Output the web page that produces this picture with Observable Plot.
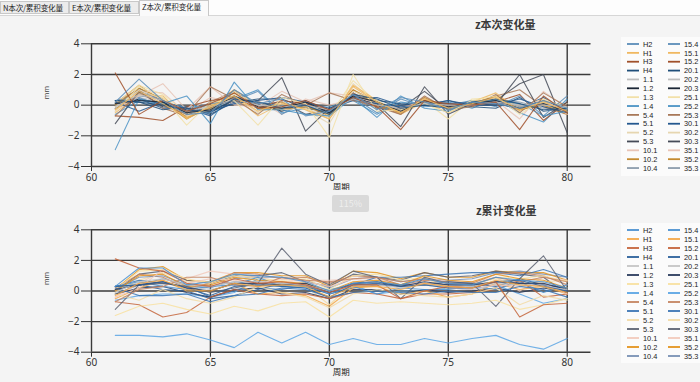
<!DOCTYPE html>
<html><head><meta charset="utf-8">
<script src="https://cdn.jsdelivr.net/npm/d3@7"></script>
<script src="https://cdn.jsdelivr.net/npm/@observablehq/plot@0.6"></script>
<style>
body{margin:0;width:700px;height:382px;background:#f4f4f4;font-family:"Noto Sans CJK SC","Noto Sans",sans-serif;position:relative;overflow:hidden;}
.abs{position:absolute;}
.tabbar{left:0;top:0;width:700px;height:15px;background:#fdfdfd;border-bottom:1px solid #d6d6d6;}
.tab{top:1px;height:13px;font-size:7.6px;line-height:12px;color:#222;border:1px solid #c8c8c8;background:#ececec;padding-left:2px;box-sizing:border-box;white-space:nowrap;overflow:hidden;letter-spacing:-0.2px;}
.tab.sel{top:0;height:16px;background:#fafafa;border-bottom:none;}
.title{font-size:11px;font-weight:bold;color:#3a3a3a;white-space:nowrap;}
.legend{background:#fbfbfb;}
.btn{left:332px;top:195px;width:37px;height:17px;background:#d9d9d9;border-radius:2px;color:#eeeeee;font-size:9px;text-align:center;line-height:17px;}
</style></head>
<body>
<div class="abs tabbar"></div>
<div class="abs tab" style="left:0;width:69px">N本次/累积变化量</div>
<div class="abs tab" style="left:69px;width:70px">E本次/累积变化量</div>
<div class="abs tab sel" style="left:139px;width:70px">Z本次/累积变化量</div>
<div class="abs title" style="left:475px;top:16px">z本次变化量</div>
<div class="abs title" style="left:476px;top:202px">z累计变化量</div>
<div class="abs btn">115%</div>
<div id="p1" class="abs" style="left:0;top:0"></div>
<div id="p2" class="abs" style="left:0;top:190px"></div>
<div id="lg1" class="abs legend" style="left:621px;top:37px;width:79px;height:139px"></div>
<div id="lg2" class="abs legend" style="left:621px;top:223px;width:79px;height:140px"></div>
<script>
const names = ["H2","H1","H3","H4","1.1","1.2","1.3","1.4","5.4","5.1","5.2","5.3","10.1","10.2","10.4",
  "15.4","15.1","15.2","20.1","20.2","20.3","25.1","25.2","25.3","30.1","30.2","30.3","35.1","35.2","35.3"];
const periods = [61,62,63,64,65,66,67,68,69,70,71,72,73,74,75,76,77,78,79,80];
const xTicks = [60,65,70,75,80];
const yTicks = [-4,-2,0,2,4];
const paletteTop = ["#5b8db8","#f0b860","#a0502a","#1f4e79","#bdbdbd","#1a2535","#f2e0a8","#4a92c4","#a87858","#24588f","#e6d6b0","#454b58","#e8c4b6","#c48a30","#8c9cac"];
const paletteBottom = ["#4a90d0","#f4a848","#c4643a","#2a5f9a","#c4c4c4","#2a3a5c","#f8e0a0","#5aa4e4","#c48460","#3a74b4","#f2daa4","#5c6272","#f2cabc","#e4941e","#7890b4"];

// z本次变化量 (per-period change)
const zThis = [
 [0.2,1.7,0.3,-0.6,-0.5,1.0,0.1,0.4,-0.7,-0.4,0.7,-0.3,0.5,0.2,-0.3,0.2,0.1,-0.2,0.3,-0.2],
 [-0.3,0.9,0.1,-0.8,-0.1,0.6,-0.4,0.2,-0.3,-0.9,1.2,0.2,-0.5,0.4,-0.2,0.1,0.5,-0.3,0.2,-0.4],
 [2.1,-0.6,0.3,-0.4,0.1,0.8,-0.2,-0.1,0.3,-0.3,0.5,-0.1,-1.6,0.3,0.1,0.0,0.2,-1.6,0.6,-0.5],
 [0.3,0.2,0.0,-0.3,-0.5,0.4,0.2,-0.2,0.0,-0.6,0.7,0.4,-0.2,0.0,-0.2,0.2,0.4,0.1,-0.3,-0.2],
 [-0.1,0.7,0.3,-0.4,-0.1,0.4,0.0,-0.1,0.0,-0.3,0.4,0.0,-0.2,0.1,0.0,0.0,0.2,0.0,0.0,-0.1],
 [0.1,0.3,0.2,-0.5,-0.3,0.6,-0.1,-0.2,0.2,-0.5,0.6,0.2,-0.4,0.3,-0.1,0.1,0.3,-0.2,0.1,-0.4],
 [-0.4,1.2,0.5,-1.3,0.2,0.3,-1.3,0.5,0.1,-2.1,2.0,-0.4,-0.3,0.1,-0.5,0.3,0.6,-0.6,0.4,-0.2],
 [-2.9,0.4,0.1,0.6,-1.2,1.5,-0.3,-0.3,-0.6,-0.7,0.5,-0.8,0.6,-0.2,-0.4,0.2,0.3,0.1,-0.7,-0.4],
 [-0.7,0.8,0.0,-0.6,1.2,0.4,-0.6,0.7,0.0,0.8,0.3,-0.1,-0.6,0.6,-0.3,-0.1,0.7,-0.5,0.8,-0.1],
 [0.2,-0.4,0.2,-0.2,-0.4,0.1,0.3,0.5,0.2,-0.2,0.3,0.1,-0.1,0.0,0.3,0.0,0.0,0.4,-0.1,-0.5],
 [-0.2,1.0,0.4,-0.7,-0.3,0.7,0.2,-0.3,-0.2,-0.8,0.9,0.3,-0.4,0.4,-0.2,0.2,0.4,-0.2,0.2,-0.4],
 [-1.2,0.9,-0.1,-0.2,-0.4,0.3,0.3,1.8,-1.7,-0.2,0.4,0.1,-1.4,1.2,-0.6,0.1,0.0,2.0,-0.8,0.2],
 [-0.3,0.6,1.4,-0.3,1.2,0.0,-0.1,0.9,0.2,0.8,0.6,0.1,-0.2,0.3,-0.1,0.0,0.2,-0.2,0.4,-0.6],
 [0.0,1.1,0.4,-0.8,-0.2,0.8,-0.2,-0.3,-0.1,-0.6,1.0,0.0,-0.5,0.5,-0.2,0.1,0.6,-0.3,0.0,-0.6],
 [0.1,0.9,0.3,-0.5,-0.3,0.5,0.1,-0.1,-0.1,-0.4,0.7,0.1,-0.3,0.2,-0.1,0.0,0.3,-0.1,0.2,-0.3],
 [0.3,0.5,-0.1,-0.3,0.1,0.3,0.9,-0.6,0.2,-0.5,0.5,-0.5,0.4,-0.1,0.0,0.3,-0.1,0.6,-0.7,0.6],
 [-0.5,0.7,0.6,-0.9,0.0,0.6,-0.7,0.1,-0.2,-0.9,1.3,0.3,-0.6,0.2,-0.5,0.2,0.8,-0.4,0.3,-0.5],
 [-0.7,-0.8,-1.0,-0.1,0.3,0.5,-0.2,0.3,0.1,-0.3,0.4,-0.1,-0.2,0.3,0.0,0.1,0.2,0.7,-1.0,0.2],
 [0.3,0.2,-0.3,-0.1,-0.6,0.2,0.4,0.4,-0.2,-0.4,0.5,0.3,0.1,0.0,0.3,-0.1,-0.2,0.5,-0.4,-0.2],
 [0.0,0.5,0.2,-0.3,-0.2,0.3,0.0,-0.1,0.0,-0.3,0.3,0.1,-0.1,0.1,0.0,0.0,0.1,0.0,0.0,-0.2],
 [-0.2,0.4,0.1,-0.4,-0.4,0.5,0.1,-0.4,0.1,-0.4,0.6,0.0,-0.3,0.3,-0.2,0.1,0.2,-0.3,0.3,-0.3],
 [0.1,1.3,0.7,-0.5,-0.4,0.9,-0.3,-0.2,0.2,-0.7,1.6,0.2,-0.5,0.3,-0.9,0.4,0.5,-0.1,0.4,-0.3],
 [-0.6,0.3,0.1,-0.1,-0.1,0.4,1.0,-0.5,-0.2,-0.1,0.3,-0.6,0.2,0.0,0.2,-0.2,0.4,-0.5,-1.1,0.4],
 [0.2,1.0,-0.2,-0.7,0.2,0.9,-0.1,-0.3,0.1,-0.4,0.8,0.0,-0.6,0.4,-0.1,-0.1,0.6,1.0,-0.1,-0.6],
 [0.3,0.4,-0.2,-0.2,-0.7,0.4,0.2,-0.1,0.3,-0.5,0.5,0.5,0.0,0.1,0.1,0.2,0.1,-0.2,0.5,-0.4],
 [-0.1,0.8,0.5,-0.6,0.0,0.6,-0.5,0.1,-0.3,-1.2,1.4,0.1,-0.3,0.2,-0.3,0.3,0.3,-0.3,0.1,0.1],
 [0.0,1.1,0.2,-0.6,-0.2,0.5,0.0,0.2,-0.6,-0.3,0.8,-0.2,-0.2,0.9,-0.3,0.1,0.3,1.4,2.0,-1.8],
 [-0.4,0.9,0.8,-0.5,0.5,0.2,0.3,-0.6,0.4,0.0,0.4,0.0,-0.4,0.5,-0.3,0.0,0.3,-0.9,0.9,-0.2],
 [0.1,1.3,0.2,-0.9,-0.1,1.0,0.0,-0.2,0.0,-0.7,1.0,0.2,-0.5,0.4,-0.2,0.1,0.6,-0.1,0.0,-0.5],
 [-0.2,0.6,0.4,-0.4,-0.2,0.6,0.1,0.0,-0.2,-0.5,0.6,0.2,-0.3,0.2,-0.1,0.1,0.4,0.2,-0.2,-0.2]
];
// z累计变化量 (cumulative change)
const zCum = [
 [0.3,1.5,1.5,0.4,0.6,1.1,1.0,0.9,0.6,0.0,0.5,0.6,0.4,0.8,0.5,0.4,0.9,0.7,0.6,0.2],
 [-0.3,0.5,0.7,0.1,0.0,0.5,0.3,0.4,0.3,-0.4,0.3,0.3,0.1,0.5,0.3,0.2,0.7,0.4,0.3,-0.1],
 [2.1,1.5,1.3,0.5,0.3,0.8,0.5,0.6,0.4,-0.1,0.4,0.4,-0.5,0.0,0.3,0.2,0.6,-1.7,-0.9,-0.8],
 [0.3,0.4,0.6,0.2,-0.3,0.3,0.4,0.3,0.2,-0.4,0.4,0.5,0.3,0.4,0.2,0.2,0.6,0.7,0.3,0.0],
 [-0.1,0.6,0.8,0.4,0.3,0.6,0.6,0.5,0.4,0.0,0.3,0.4,0.2,0.4,0.3,0.3,0.5,0.4,0.3,0.1],
 [0.1,0.4,0.6,0.2,0.0,0.5,0.5,0.4,0.5,-0.1,0.5,0.6,0.3,0.6,0.4,0.4,0.6,0.5,0.5,0.1],
 [-1.6,-1.0,-0.8,-1.2,-1.5,-1.0,-1.3,-0.8,-0.7,-1.7,-0.6,-0.8,-0.7,-0.8,-0.9,-0.8,-0.6,-1.2,-0.9,-0.5],
 [-2.9,-2.9,-3.0,-2.8,-3.2,-3.7,-2.7,-3.4,-2.7,-3.5,-3.1,-3.5,-3.5,-3.1,-3.4,-3.1,-2.9,-3.5,-3.8,-3.1],
 [-0.7,0.1,0.3,0.9,0.9,0.4,0.3,0.9,0.7,0.6,0.8,0.9,0.6,0.8,0.5,0.4,0.9,0.6,0.9,0.6],
 [0.2,-0.3,-0.3,-0.2,-0.7,-0.3,-0.2,0.2,0.1,-0.4,-0.1,0.0,-0.1,-0.2,0.0,-0.1,-0.1,0.3,0.1,-0.4],
 [-0.2,-0.6,0.1,-0.5,-0.8,-0.4,0.3,-0.1,-0.4,-1.1,-0.2,0.1,-0.2,-0.3,-0.4,-0.2,0.2,-0.9,-0.3,-0.6],
 [-1.2,0.4,0.5,0.3,-0.1,0.2,0.5,2.8,1.1,0.4,1.3,0.9,-0.5,0.9,0.5,0.5,-1.0,0.8,2.3,0.0],
 [-0.4,0.2,1.4,0.5,0.8,0.7,0.5,0.8,0.6,0.3,0.8,0.5,0.3,0.5,0.2,0.1,0.4,0.3,0.5,-0.2],
 [0.0,1.0,1.1,0.3,0.4,0.9,0.7,0.6,0.5,0.0,0.6,0.7,0.4,1.0,0.7,0.6,1.1,0.8,0.7,0.2],
 [0.1,0.9,1.0,0.4,0.3,0.6,0.6,0.5,0.5,-0.1,0.5,0.4,0.3,0.5,0.4,0.3,0.6,0.5,0.4,0.0],
 [0.3,0.6,0.3,0.1,0.3,0.4,0.9,0.3,0.4,-0.2,0.3,-0.2,0.2,0.1,0.1,0.3,0.1,0.6,-0.1,0.4],
 [-0.5,0.2,0.7,0.0,0.0,0.5,-0.2,-0.1,-0.3,-1.0,0.2,0.3,-0.2,0.0,-0.4,-0.2,0.5,0.1,0.3,-0.2],
 [-0.7,-0.9,-1.7,-1.4,-0.4,0.1,-0.2,-0.3,-0.2,-0.5,-0.1,-0.2,-0.5,-0.2,-0.2,-0.1,0.1,0.7,-0.4,-0.2],
 [0.3,0.4,0.1,0.0,-0.5,-0.3,0.1,0.5,0.3,-0.2,0.2,0.4,0.4,0.4,0.6,0.5,0.3,0.8,0.4,0.2],
 [0.0,0.5,0.6,0.3,0.1,0.4,0.4,0.3,0.3,0.0,0.3,0.4,0.3,0.4,0.3,0.3,0.4,0.4,0.4,0.2],
 [-0.2,0.2,0.3,-0.1,-0.4,0.1,0.2,-0.2,-0.1,-0.5,0.1,0.1,-0.2,0.1,-0.1,0.0,0.2,-0.1,0.2,-0.1],
 [0.1,1.3,1.4,0.8,0.5,1.1,0.8,0.7,0.8,0.1,1.0,1.1,0.7,0.9,0.1,0.4,0.9,0.8,1.0,0.6],
 [-0.6,-0.3,-0.2,-0.2,-0.4,-0.1,0.8,0.3,0.2,0.1,0.4,-0.2,0.0,0.0,0.2,0.1,0.4,-0.2,-0.8,-0.5],
 [0.2,1.1,0.9,0.2,0.5,1.2,1.1,0.8,0.9,0.5,1.0,0.9,0.4,0.7,0.6,0.5,1.1,1.2,1.0,0.4],
 [0.3,0.7,0.5,0.3,-0.4,0.0,0.2,0.1,0.4,-0.1,0.4,0.9,0.9,1.0,1.1,1.2,1.2,1.0,1.4,0.9],
 [-0.1,0.7,1.2,0.6,0.6,1.0,0.5,0.6,0.3,-0.9,0.5,0.6,0.3,0.5,0.2,0.5,0.8,0.5,0.6,0.7],
 [0.0,1.1,1.3,0.7,0.5,1.0,1.0,1.2,0.6,0.3,1.1,0.9,0.7,1.2,0.9,1.0,1.3,1.1,0.9,-0.2],
 [-0.4,0.5,1.3,0.8,1.3,1.1,0.9,0.6,0.7,0.7,0.8,0.8,0.4,0.9,0.6,0.6,0.9,0.0,0.9,0.7],
 [0.1,1.4,1.6,0.7,0.6,1.2,1.2,1.0,1.0,0.3,1.3,1.2,0.8,1.2,0.9,0.9,1.3,1.2,1.2,0.7],
 [-0.2,0.4,0.8,0.4,0.2,0.8,0.9,0.9,0.7,0.2,0.8,0.9,0.6,0.8,0.7,0.8,1.2,1.3,1.1,0.9]
];

function rows(values){
  const out = [];
  values.forEach((arr,i)=>arr.forEach((v,j)=>out.push({name:names[i], x:periods[j], y:v})));
  return out;
}
function chart(values, palette, mt, mb, h){
  return Plot.plot({
    width: 600, height: h,
    marginLeft: 91, marginRight: 9.5, marginTop: mt, marginBottom: mb,
    style: {background:"transparent", fontSize:"10px", fontFamily:"'Noto Sans','DejaVu Sans',sans-serif", color:"#333"},
    x: {domain:[60,81], ticks:xTicks, tickSize:5, tickPadding:2, label:null},
    y: {domain:[-4,4], ticks:yTicks, tickSize:10, tickPadding:2, label:null},
    color: {domain:names, range:palette.concat(palette)},
    marks: [
      Plot.ruleY(yTicks, {x1:60, x2:81, stroke:"#3a3a3a", strokeWidth:1.4}),
      Plot.ruleX(xTicks, {y1:-4, y2:4, stroke:"#3a3a3a", strokeWidth:1.4}),
      Plot.line(rows(values).reverse(), {x:"x", y:"y", z:"name", stroke:"name", strokeWidth:1.1, strokeOpacity:0.85}),
      Plot.text(["周期"], {frameAnchor:"bottom", dy:23, fontSize:8.5, fill:"#222", fontFamily:"'Noto Sans CJK SC',sans-serif"}),
      Plot.text(["mm"], {frameAnchor:"left", dx:-45, dy:-6, rotate:-90, fontSize:7, fill:"#444"})
    ]
  });
}
document.getElementById("p1").append(chart(zThis, paletteTop, 43.3, 24, 190));
document.getElementById("p2").append(chart(zCum, paletteBottom, 39.3, 30.3, 192));

function legend(id, palette, rowStep){
  const svg = d3.create("svg").attr("width",79).attr("height",142)
    .style("font-family","'Liberation Sans','Noto Sans',sans-serif").style("font-size","7.4px");
  names.forEach((n,i)=>{
    const col = Math.floor(i/15), r = i%15;
    const x0 = col ? 47 : 6, y = 7 + r*rowStep;
    svg.append("line").attr("x1",x0).attr("x2",x0+12).attr("y1",y).attr("y2",y)
      .attr("stroke",palette[i%15]).attr("stroke-width",1.8);
    svg.append("text").attr("x",x0+16).attr("y",y+2.7).attr("fill","#222").text(n);
  });
  document.getElementById(id).append(svg.node());
}
legend("lg1", paletteTop, 8.86);
legend("lg2", paletteBottom, 9.0);
</script>
</body></html>
